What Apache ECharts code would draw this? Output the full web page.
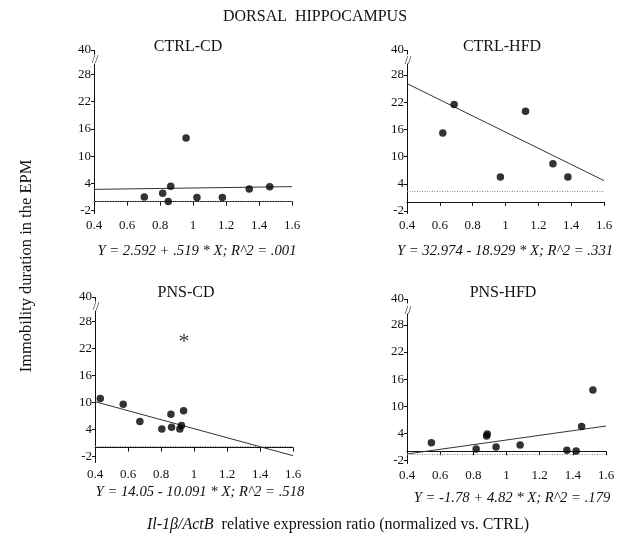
<!DOCTYPE html>
<html><head><meta charset="utf-8">
<script src="https://cdn.jsdelivr.net/npm/echarts@6/dist/echarts.min.js"></script>
<style>html,body{margin:0;padding:0;background:#fff}#c{width:619px;height:540px}</style>
</head><body><div id="c"></div>
<script>
// ---- data ----
const mainTitle = 'DORSAL  HIPPOCAMPUS';
const panelTitles = ['CTRL-CD', 'CTRL-HFD', 'PNS-CD', 'PNS-HFD'];
const equations = [
  'Y = 2.592 + .519 * X; R^2 = .001',
  'Y = 32.974 - 18.929 * X; R^2 = .331',
  'Y = 14.05 - 10.091 * X; R^2 = .518',
  'Y = -1.78 + 4.82 * X; R^2 = .179'
];
const yAxisTitle = 'Immobility duration in the EPM';
const xAxisItalic = 'Il-1β/ActB';
const xAxisRest = '  relative expression ratio (normalized vs. CTRL)';
const yTickValues = [-2, 4, 10, 16, 22, 28, 40];

const ctrlCdX = [0.705, 0.816, 0.85, 0.865, 0.958, 1.024, 1.178, 1.341, 1.465];
const ctrlCdY = [1.0, 1.87, 0.05, 3.4, 14.0, 0.9, 0.9, 2.8, 3.25];
const ctrlHfdX = [0.618, 0.687, 0.969, 1.122, 1.289, 1.38];
const ctrlHfdY = [15.2, 21.5, 5.5, 20.0, 8.4, 5.5];
const pnsCdX = [0.432, 0.571, 0.672, 0.805, 0.86, 0.864, 0.914, 0.924, 0.937];
const pnsCdY = [10.9, 9.6, 5.8, 4.15, 7.4, 4.5, 4.15, 4.9, 8.2];
const pnsHfdX = [0.547, 0.817, 0.88, 0.884, 0.937, 1.082, 1.364, 1.42, 1.453, 1.521];
const pnsHfdY = [1.9, 0.5, 3.4, 3.85, 0.95, 1.4, 0.2, 0.05, 5.5, 13.6];

const asteriskX = [0.94];
const asteriskY = [23.4];

const fitX = [0.4, 1.6];
const ctrlCdFitY = [2.7, 3.3];
const ctrlHfdFitY = [26.1, 4.7];
const pnsCdFitY = [10.2, -1.8];
const pnsHfdFitY = [-0.6, 5.6];

const refLineY = [0, 2.4, 0.3, -0.7];
const yMins = [-2.5, -2.45, -3.2, -2.6];

// ---- layout ----
const grids = [
  {left: 94, top: 50, width: 198, height: 163},
  {left: 407, top: 50, width: 197, height: 163},
  {left: 95, top: 297, width: 198, height: 165},
  {left: 407, top: 299, width: 199, height: 164}
];
const gaps = ['5.2%', '5.6%', '5.3%', '6.2%'];
const FONT = '"Liberation Serif", "Times New Roman", serif';
const INK = '#111';

const pairs = (xs, ys) => xs.map((x, i) => [x, ys[i]]);
const scatterSets = [pairs(ctrlCdX, ctrlCdY), pairs(ctrlHfdX, ctrlHfdY), pairs(pnsCdX, pnsCdY), pairs(pnsHfdX, pnsHfdY)];
const fitSets = [pairs(fitX, ctrlCdFitY), pairs(fitX, ctrlHfdFitY), pairs(fitX, pnsCdFitY), pairs(fitX, pnsHfdFitY)];

const xAxes = grids.map((g, i) => ({
  type: 'value', gridIndex: i, min: 0.4, max: 1.6, interval: 0.2,
  splitLine: {show: false},
  axisLine: {lineStyle: {color: INK, width: 1}},
  axisTick: {length: 4, lineStyle: {color: INK}},
  axisLabel: {color: INK, fontFamily: FONT, fontSize: 13, margin: 6}
}));
const yAxes = grids.map((g, i) => ({
  type: 'value', gridIndex: i, min: yMins[i], max: 40,
  breaks: [{start: 30.5, end: 39, gap: gaps[i]}],
  breakArea: {itemStyle: {color: '#fff', borderColor: 'rgba(0,0,0,0)', borderWidth: 0, opacity: 1}, zigzagAmplitude: 0},
  splitLine: {show: false},
  axisLine: {show: true, lineStyle: {color: INK, width: 1}},
  axisTick: {show: true, length: 3, lineStyle: {color: INK}, customValues: yTickValues},
  axisLabel: {color: INK, fontFamily: FONT, fontSize: 13, margin: 3, customValues: yTickValues}
}));

const series = [];
scatterSets.forEach((d, i) => {
  series.push({
    type: 'scatter', xAxisIndex: i, yAxisIndex: i, data: d,
    symbol: 'circle', symbolSize: 7.5, itemStyle: {color: '#000'}, z: 5
  });
  series.push({
    type: 'line', xAxisIndex: i, yAxisIndex: i, data: fitSets[i],
    symbol: 'none', lineStyle: {color: '#333', width: 1}, z: 3,
    markLine: {
      silent: true, symbol: 'none', label: {show: false},
      lineStyle: {color: '#888', type: [1, 1.5], width: 1},
      data: [{yAxis: refLineY[i]}]
    }
  });
});
series.push({
  type: 'scatter', xAxisIndex: 2, yAxisIndex: 2, data: pairs(asteriskX, asteriskY),
  symbolSize: 0,
  label: {show: true, position: 'inside', formatter: '*', color: '#000', fontFamily: FONT, fontSize: 22}
});

const graphics = [];
graphics.push({type: 'text', x: 315, y: 17, style: {text: mainTitle, font: '16px ' + FONT, fill: INK, textAlign: 'center', textVerticalAlign: 'middle'}});
const titlePos = [[188, 47], [502, 47], [186, 293], [503, 293]];
panelTitles.forEach((t, i) => graphics.push({type: 'text', x: titlePos[i][0], y: titlePos[i][1], style: {text: t, font: '16px ' + FONT, fill: INK, textAlign: 'center', textVerticalAlign: 'middle'}}));
const eqPos = [[197, 251], [505, 251], [200, 492], [512, 498]];
equations.forEach((t, i) => graphics.push({type: 'text', x: eqPos[i][0], y: eqPos[i][1], style: {text: t, font: 'italic 14.7px ' + FONT, fill: INK, textAlign: 'center', textVerticalAlign: 'middle'}}));
graphics.push({type: 'text', x: 27, y: 266, rotation: Math.PI / 2, style: {text: yAxisTitle, font: '16.5px ' + FONT, fill: INK, textAlign: 'center', textVerticalAlign: 'middle'}});
graphics.push({type: 'text', x: 338, y: 525, style: {
  text: '{i|' + xAxisItalic + '}{n|' + xAxisRest + '}', textAlign: 'center', textVerticalAlign: 'middle',
  rich: {i: {font: 'italic 16px ' + FONT, fill: INK}, n: {font: '16px ' + FONT, fill: INK}}
}});

const chart = echarts.init(document.getElementById('c'), null, {renderer: 'canvas'});
chart.setOption({
  animation: false,
  backgroundColor: '#fff',
  grid: grids.map(g => Object.assign({containLabel: false}, g)),
  xAxis: xAxes, yAxis: yAxes, series: series, graphic: graphics
});
// break marks on the y axes, placed through the library's scale
const marks = grids.map((g, i) => {
  const p = chart.convertToPixel({xAxisIndex: i, yAxisIndex: i}, [0.4, 30.5]);
  return {type: 'text', x: p[0] + 1, y: p[1] - 3, style: {text: '//', font: '12px ' + FONT, fill: INK, textAlign: 'center', textVerticalAlign: 'middle'}, z: 200};
});
chart.setOption({graphic: graphics.concat(marks)});
</script></body></html>
